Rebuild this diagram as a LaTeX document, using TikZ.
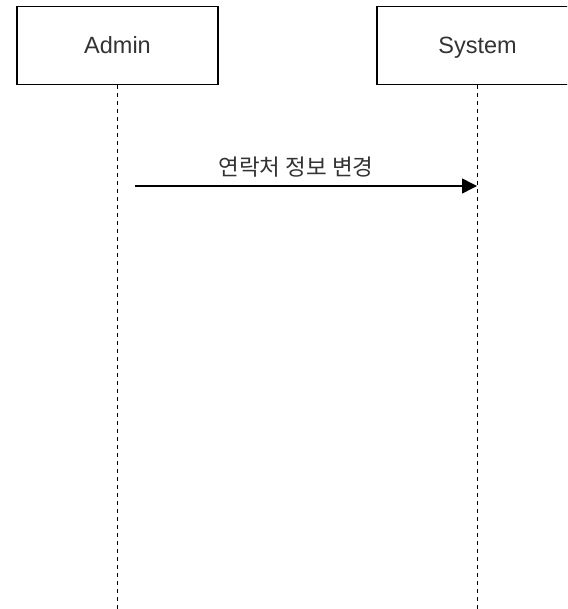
\documentclass[tikz,border=0pt]{standalone}
\usepackage{fontspec}
\setmainfont{Liberation Sans}
\newfontfamily\krfont{Noto Sans CJK KR}
\usetikzlibrary{arrows.meta}
\definecolor{txt}{HTML}{333333}
\tikzset{
  actorbox/.style={draw=black, line width=1.7pt, fill=white, minimum width=201pt, minimum height=78pt, inner sep=0pt, text=txt, text height=17pt, text depth=0pt, font=\fontsize{23.5}{27}\selectfont},
  lifeline/.style={draw=black, line width=1.4pt, dash pattern=on 4pt off 4pt},
  msg/.style={draw=black, line width=1.5pt, -{Triangle[length=15pt,width=15pt]}},
  msglabel/.style={text=txt, font=\krfont\fontsize{22.5}{26}\selectfont, inner sep=0pt}
}
\begin{document}
\begin{tikzpicture}[x=1pt,y=-1pt]
\useasboundingbox (0,0) rectangle (567,609);
\clip (0,0) rectangle (567,609);
\fill[white] (0,0) rectangle (567,609);
\node[actorbox] (admin) at (117.5,45.5) {Admin};
\node[actorbox] (system) at (477.5,45.5) {System};
\coordinate (adminend) at (117.5,612);
\coordinate (systemend) at (477.5,612);
\draw[lifeline] (admin.south) -- (adminend);
\draw[lifeline] (system.south) -- (systemend);
\coordinate (msgstart) at (135,186);
\coordinate (msgend) at (477,186);
\draw[msg] (msgstart) -- (msgend);
\node[msglabel] (label) at (296,167.5) {연락처 정보 변경};
\end{tikzpicture}
\end{document}
